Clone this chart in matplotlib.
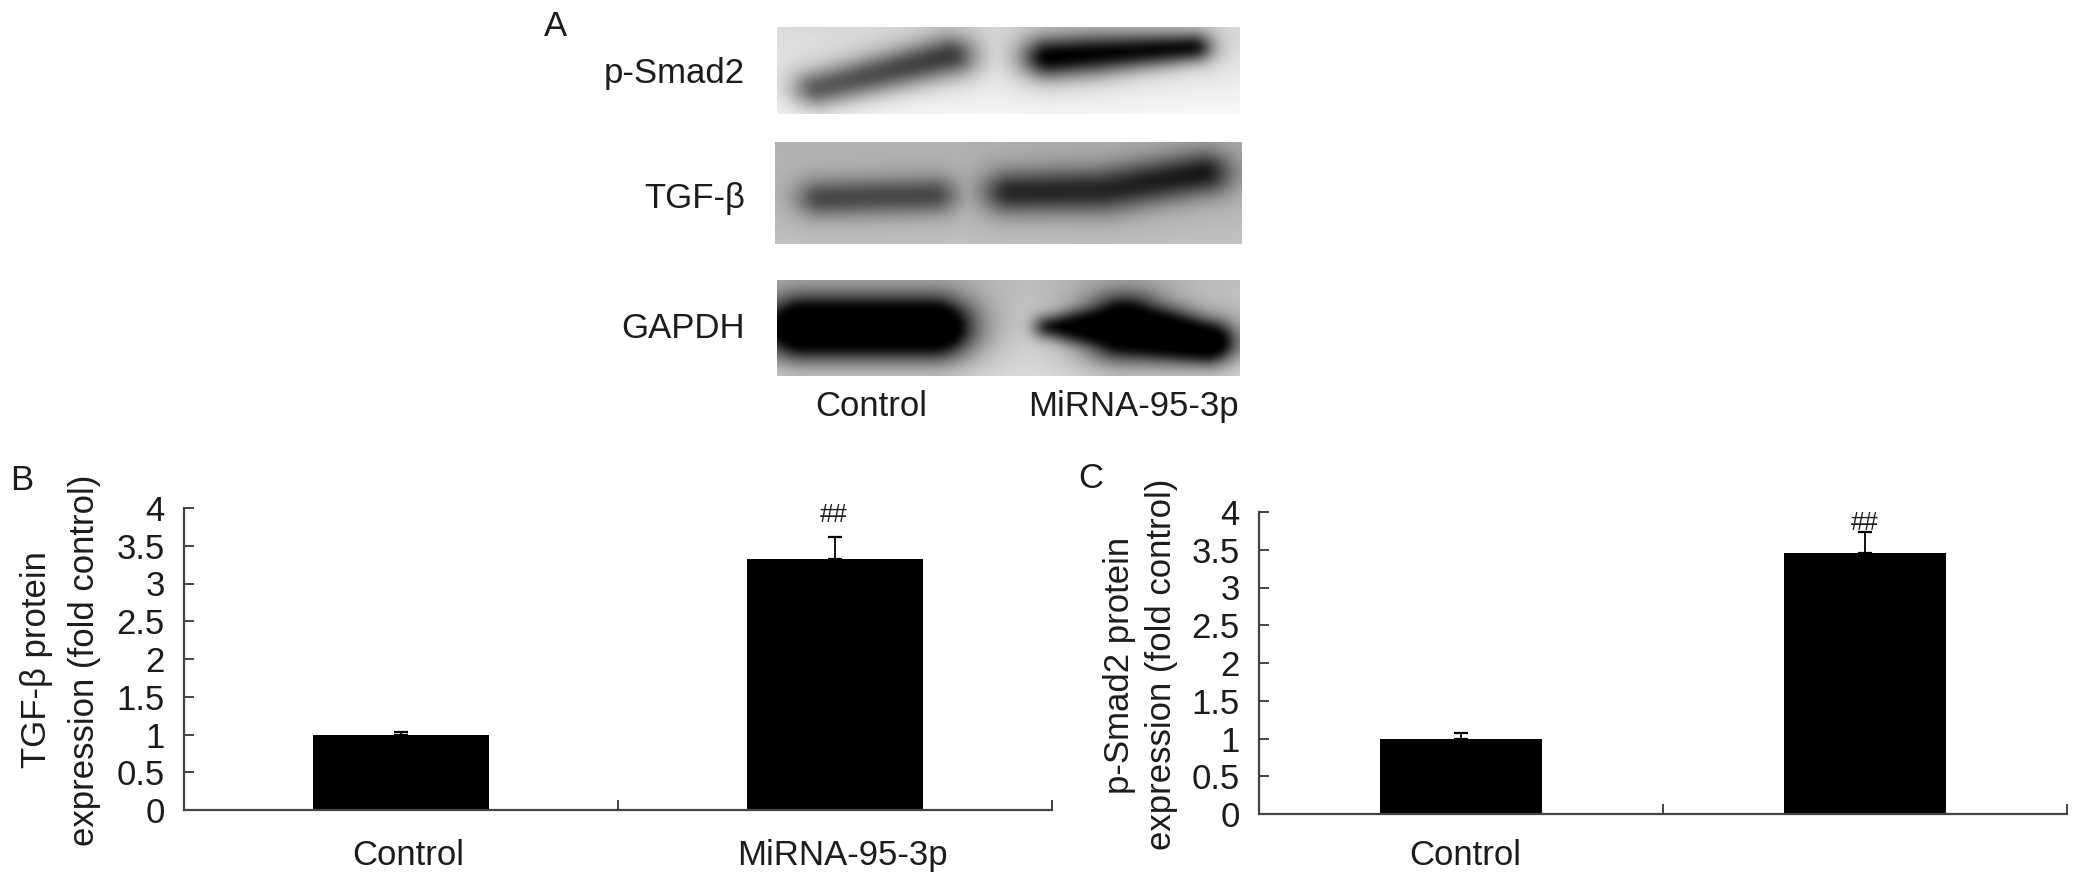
import matplotlib
matplotlib.use("Agg")
import matplotlib.pyplot as plt
from matplotlib.transforms import ScaledTranslation
import numpy as np

W, H = 2079, 886
TEXT = "#1c1c1c"
AXIS = "#444444"
FONT = 25

plt.rcParams["font.family"] = ["Liberation Sans", "DejaVu Sans"]

# bar data
categories_b = ["Control", "MiRNA-95-3p"]
values_b = [1.0, 3.33]
errors_b = [0.03, 0.28]
categories_c = ["Control", ""]
values_c = [1.0, 3.46]
errors_c = [0.07, 0.28]
y_ticks = [0, 0.5, 1, 1.5, 2, 2.5, 3, 3.5, 4]
y_tick_labels = ["0", "0.5", "1", "1.5", "2", "2.5", "3", "3.5", "4"]

# blot strips: box (left, top, right, bottom), background grey (top, bottom)
blot_names = ["p-Smad2", "TGF-β", "GAPDH"]
blot_boxes = [(777, 27, 1240, 114), (775, 142, 1242, 244), (777, 281, 1240, 376)]
blot_bg = [(0.86, 0.97), (0.70, 0.76), (0.76, 0.88)]
# bands: x0, y0, x1, y1, sigma0, sigma1, darkness0, darkness1
blot_bands = [
    [(818, 88, 948, 56, 13, 14, 0.54, 0.62), (1050, 57, 1090, 54, 14, 14, 0.86, 0.82),
     (1090, 54, 1192, 47, 14, 10, 0.82, 0.78)],
    [(822, 198, 932, 195, 13, 13, 0.42, 0.42), (1012, 192, 1103, 190, 15, 16, 0.54, 0.54),
     (1103, 190, 1202, 173, 16, 15, 0.54, 0.58)],
    [(805, 328, 930, 328, 20, 20, 1.25, 1.25), (1050, 327, 1125, 328, 8, 20, 0.7, 1.25),
     (1125, 328, 1205, 342, 20, 14, 1.25, 1.2)],
]


def soften(img, size=11):
    kernel = np.ones(size) / size
    pad = size // 2
    out = np.pad(img, pad, mode="edge")
    out = np.apply_along_axis(lambda r: np.convolve(r, kernel, mode="same"), 0, out)
    out = np.apply_along_axis(lambda r: np.convolve(r, kernel, mode="same"), 1, out)
    return out[pad:-pad, pad:-pad]


def draw_blot(ax, box, bg, bands):
    left, top, right, bottom = box
    xx, yy = np.meshgrid(np.arange(left, right), np.arange(top, bottom))
    shade = np.linspace(bg[0], bg[1], bottom - top)[:, None] * np.ones_like(xx)
    dark = np.zeros_like(shade)
    haze = np.zeros_like(shade)
    for x0, y0, x1, y1, s0, s1, a0, a1 in bands:
        dx, dy = x1 - x0, y1 - y0
        t = np.clip(((xx - x0) * dx + (yy - y0) * dy) / (dx * dx + dy * dy), 0, 1)
        sigma = s0 + t * (s1 - s0)
        amount = a0 + t * (a1 - a0)
        # bands smear further sideways than up and down
        dist2 = ((xx - x0 - t * dx) / 1.4) ** 2 + (yy - y0 - t * dy) ** 2
        dark = np.maximum(dark, amount * np.exp(-dist2 / (2 * sigma**2)))
        haze = np.maximum(haze, 0.10 * amount * np.exp(-dist2 / (2 * (2.2 * sigma) ** 2)))
    ax.imshow(
        soften(np.clip(shade - dark - haze, 0, 1)),
        cmap="gray",
        vmin=0,
        vmax=1,
        extent=(left, right, bottom, top),
        aspect="auto",
        interpolation="bilinear",
    )


def draw_bars(fig, rect, categories, values, errors, bar_width, label_pad, label_shift):
    left, top, right, bottom = rect
    ax = fig.add_axes([left / W, 1 - bottom / H, (right - left) / W, (bottom - top) / H])
    ax.patch.set_alpha(0)
    pos = np.arange(1, len(values) + 1)
    ax.bar(pos, values, bar_width, color="black")
    for p, v, e in zip(pos, values, errors):
        ax.errorbar(p, v, yerr=[[0], [e]], color="black", elinewidth=1.3, capsize=5, capthick=1.6)
    ax.set_xlim(0.5, 2.5)
    ax.set_ylim(0, 4)
    ax.set_yticks(y_ticks)
    ax.set_yticklabels(y_tick_labels, fontsize=FONT, color=TEXT)
    ax.set_xticks([0.5, 1.5, 2.5])
    ax.set_xticklabels([])
    ax.set_xticks(pos, minor=True)
    ax.set_xticklabels(categories, minor=True, fontsize=FONT, color=TEXT)
    ax.tick_params(axis="x", which="major", direction="in", length=7, width=1.4, color=AXIS)
    ax.tick_params(axis="x", which="minor", length=0, pad=label_pad)
    ax.tick_params(axis="y", direction="in", length=7, width=1.4, color=AXIS, pad=14)
    shift = ScaledTranslation(label_shift / 100, 0, fig.dpi_scale_trans)
    for tick in ax.get_xticklabels(minor=True):
        tick.set_transform(tick.get_transform() + shift)
    ax.spines["top"].set_visible(False)
    ax.spines["right"].set_visible(False)
    ax.spines["left"].set_color(AXIS)
    ax.spines["bottom"].set_color(AXIS)
    ax.spines["left"].set_linewidth(1.6)
    ax.spines["bottom"].set_linewidth(1.6)
    return ax


fig = plt.figure(figsize=(W / 100, H / 100), dpi=100, facecolor="white")
page = fig.add_axes([0, 0, 1, 1])

for box, bg, bands in zip(blot_boxes, blot_bg, blot_bands):
    draw_blot(page, box, bg, bands)
page.set_xlim(0, W)
page.set_ylim(H, 0)
page.axis("off")


def label(x, y, s, size=FONT, **kw):
    kw.setdefault("ha", "center")
    kw.setdefault("va", "center")
    page.text(x, y, s, fontsize=size, color=TEXT, **kw)


for name, y in zip(blot_names, [73, 198, 329]):
    label(745, y, name, ha="right")
label(871, 406, "Control")
label(1133, 406, "MiRNA-95-3p")
label(556, 26, "A")
label(22, 480, "B")
label(1091, 478, "C")

draw_bars(fig, (184, 508, 1052, 810), categories_b, values_b, errors_b, 0.405, 21, 7)
draw_bars(fig, (1259, 512, 2067, 814), categories_c, values_c, errors_c, 0.40, 18, 4)

label(37, 660, "TGF-β protein", rotation=90)
label(85, 660, "expression (fold control)", rotation=90)
label(1119, 665, "p-Smad2 protein", rotation=90)
label(1161, 664, "expression (fold control)", rotation=90)
label(834, 515, "##", size=18)
label(1865, 523, "##", size=18)

fig.savefig("out.png", dpi=100, facecolor="white")
